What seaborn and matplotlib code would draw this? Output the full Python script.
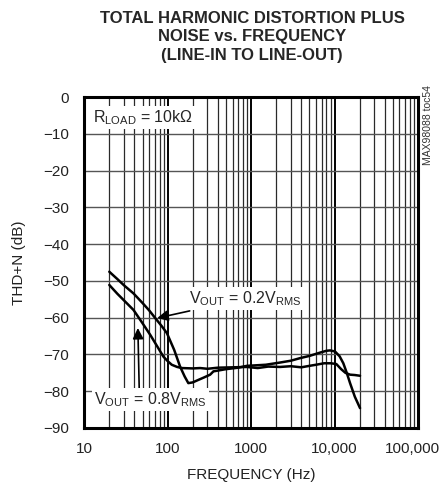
import matplotlib
matplotlib.use("Agg")
import matplotlib.pyplot as plt
import matplotlib.ticker as mticker
import matplotlib.transforms as mtrans
import pandas as pd
import seaborn as sns

# curve for VOUT = 0.2VRMS
freq_02 = [20, 25, 30, 39, 50, 60, 71, 85, 98, 120, 141, 160, 177, 200, 224, 270, 323,
           354, 500, 700, 889, 1500, 2223, 3000, 3863, 5000, 6700, 8000, 8830, 10140,
           11500, 12740, 14000, 15340, 17500, 20200]
thd_02 = [-47.5, -49.5, -51.2, -53.4, -56.0, -58.0, -60.1, -62.3, -64.2, -68.8, -73.3, -76.0,
          -77.8, -77.6, -77.1, -76.3, -75.5, -74.6, -74.0, -73.6, -73.1, -72.8, -72.2, -71.7,
          -71.0, -70.4, -69.5, -69.0, -68.9, -69.2, -70.5, -72.4, -75.0, -77.8, -81.5, -84.6]

# curve for VOUT = 0.8VRMS
freq_08 = [20, 25, 30, 39, 50, 62, 75, 89, 100, 112, 130, 148, 200, 245, 300, 400, 600,
           889, 1200, 1600, 2223, 3000, 4000, 5000, 6000, 7500, 9000, 10500, 12000, 13500,
           15340, 17500, 20200]
thd_08 = [-51.1, -53.5, -55.3, -57.9, -61.5, -64.7, -67.8, -70.6, -71.8, -72.8, -73.4, -73.7,
          -73.8, -73.7, -73.9, -73.6, -73.5, -73.4, -73.7, -73.3, -73.4, -73.2, -73.5, -73.1,
          -72.8, -72.4, -72.4, -72.6, -74.0, -75.0, -75.5, -75.6, -75.8]

x_ticks = [10, 100, 1000, 10000, 100000]
x_ticklabels = ["10", "100", "1000", "10,000", "100,000"]
y_ticks = [0, -10, -20, -30, -40, -50, -60, -70, -80, -90]

df = pd.concat([
    pd.DataFrame({"freq": freq_02, "thd": thd_02, "vout": "0.2"}),
    pd.DataFrame({"freq": freq_08, "thd": thd_08, "vout": "0.8"}),
])

sns.set_style("white")
plt.rcParams["font.family"] = ["Liberation Sans", "DejaVu Sans"]
plt.rcParams["mathtext.default"] = "regular"

fig = plt.figure(figsize=(4.43, 4.88), dpi=100)
ax = fig.add_axes([0.19, 0.123, 0.7536, 0.678])

sns.lineplot(data=df, x="freq", y="thd", units="vout", estimator=None, sort=False,
             color="black", linewidth=1.8, ax=ax, zorder=3)

ax.set_xscale("log")
ax.set_xlim(10, 100000)
ax.set_ylim(-90, 0)
ax.set_xticks(x_ticks)
ax.set_xticklabels(x_ticklabels)
ax.xaxis.set_minor_locator(mticker.LogLocator(base=10, subs=range(2, 10)))
ax.xaxis.set_minor_formatter(mticker.NullFormatter())
ax.set_yticks(y_ticks)
ax.tick_params(axis="both", which="both", length=0, labelsize=11, colors="#222222")
ax.tick_params(axis="x", pad=10)
ax.tick_params(axis="y", pad=11)

# keep the last frequency label inside the figure
last = ax.get_xticklabels()[-1]
last.set_transform(last.get_transform() + mtrans.ScaledTranslation(-6 / 100, 0, fig.dpi_scale_trans))

ax.grid(True, which="major", axis="x", color="black", linewidth=1.4)
ax.grid(True, which="minor", axis="x", color="#2a2a2a", linewidth=0.9)
ax.grid(True, which="major", axis="y", color="#555555", linewidth=1.0)
for s in ax.spines.values():
    s.set_linewidth(2.2)
    s.set_color("black")

ax.set_xlabel("FREQUENCY (Hz)", fontsize=11, labelpad=9, color="#222222")
ax.set_ylabel("THD+N (dB)", fontsize=11, labelpad=12, color="#222222")

box = dict(facecolor="white", edgecolor="none", pad=1.5)
ax.text(12.8, -5.5, "R$_{LOAD}$ = 10k$\\Omega$", fontsize=11.5, ha="left", va="center",
        bbox=box, zorder=4)
ax.annotate("V$_{OUT}$ = 0.2V$_{RMS}$", xy=(75, -60.1), xytext=(182, -54.8),
            fontsize=11.5, ha="left", va="center", bbox=box, zorder=4,
            arrowprops=dict(arrowstyle="-|>", color="black", lw=1.2, mutation_scale=16,
                            shrinkA=3, shrinkB=0))
ax.annotate("V$_{OUT}$ = 0.8V$_{RMS}$", xy=(44, -62.8), xytext=(13.2, -82.3),
            fontsize=11.5, ha="left", va="center", bbox=box, zorder=4,
            arrowprops=dict(arrowstyle="-|>", color="black", lw=1.2, mutation_scale=16,
                            shrinkA=0, shrinkB=0, relpos=(0.4, 1.0)))

fig.text(0.569, 0.978, "TOTAL HARMONIC DISTORTION PLUS\nNOISE vs. FREQUENCY\n(LINE-IN TO LINE-OUT)",
         ha="center", va="top", fontsize=12, fontweight="bold", linespacing=1.3)
fig.text(0.966, 0.826, "MAX98088 toc54", rotation=90, ha="center", va="top", fontsize=7.5,
         color="#333333")

fig.savefig("out.png", dpi=100)
